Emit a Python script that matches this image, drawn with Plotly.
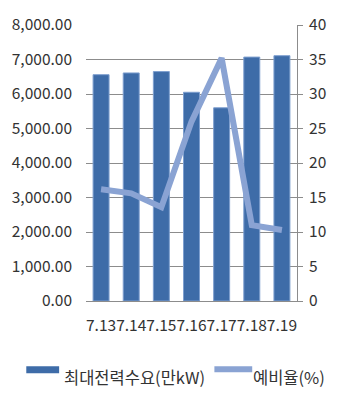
import plotly.graph_objects as go

categories = ["7.13", "7.14", "7.15", "7.16", "7.17", "7.18", "7.19"]
demand = [6560, 6610, 6650, 6050, 5600, 7070, 7110]
reserve = [16.2, 15.6, 13.6, 26.0, 35.2, 11.0, 10.3]
left_ticks = [0, 1000, 2000, 3000, 4000, 5000, 6000, 7000, 8000]
right_ticks = [0, 5, 10, 15, 20, 25, 30, 35, 40]
bar_name = "최대전력수요(만kW)"
line_name = "예비율(%)"

BAR = "#3E6CA8"
LINE = "#8AA3D3"
FONT = "Noto Sans CJK KR"
TXT = "#333333"

fig = go.Figure()
fig.add_trace(go.Bar(x=categories, y=demand, name=bar_name, marker=dict(color=BAR, line=dict(color="#7E9FCF", width=1)), yaxis="y"))
fig.add_trace(go.Scatter(x=categories, y=reserve, name=line_name, mode="lines", line=dict(color=LINE, width=6), yaxis="y2"))

fig.update_layout(
    width=340, height=396,
    margin=dict(l=85, r=43, t=18, b=95),
    paper_bgcolor="white", plot_bgcolor="white",
    showlegend=False,
    bargap=0.47,
    font=dict(family=FONT, size=15, color=TXT),
    xaxis=dict(showgrid=False, ticks="", showline=True, linecolor="#8c8c8c", linewidth=1,
               tickangle=0, tickfont=dict(size=15.5, family=FONT, color=TXT), ticklabelstandoff=10),
    yaxis=dict(range=[0, 8000], tickvals=left_ticks, tickformat=",.2f", showgrid=True,
               gridcolor="#8c8c8c", gridwidth=1, zeroline=False, showline=False, ticks="",
               tickfont=dict(size=15.5, family=FONT, color=TXT), ticklabelstandoff=13),
    yaxis2=dict(range=[0, 40], tickvals=right_ticks, overlaying="y", side="right", showgrid=False,
                zeroline=False, showline=True, linecolor="#8c8c8c", linewidth=1, ticks="outside",
                ticklen=5, tickcolor="#8c8c8c", tickfont=dict(size=15.5, family=FONT, color=TXT),
                ticklabelstandoff=3),
)

# Legend (custom)
fig.add_shape(type="rect", xref="paper", yref="paper", x0=-60/212, x1=-27/212,
              y0=(396-95-375)/283, y1=(396-95-368)/283, fillcolor=BAR, line=dict(width=0))
fig.add_annotation(xref="paper", yref="paper", x=-24/212, y=(396-95-379)/283, text=bar_name,
                   showarrow=False, xanchor="left", yanchor="middle", font=dict(size=16.5, family=FONT, color=TXT))
fig.add_shape(type="line", xref="paper", yref="paper", x0=129/212, x1=167/212,
              y0=(396-95-371)/283, y1=(396-95-371)/283, line=dict(color=LINE, width=6))
fig.add_annotation(xref="paper", yref="paper", x=166/212, y=(396-95-379)/283, text=line_name,
                   showarrow=False, xanchor="left", yanchor="middle", font=dict(size=16.5, family=FONT, color=TXT))

fig.write_html("out.html")
